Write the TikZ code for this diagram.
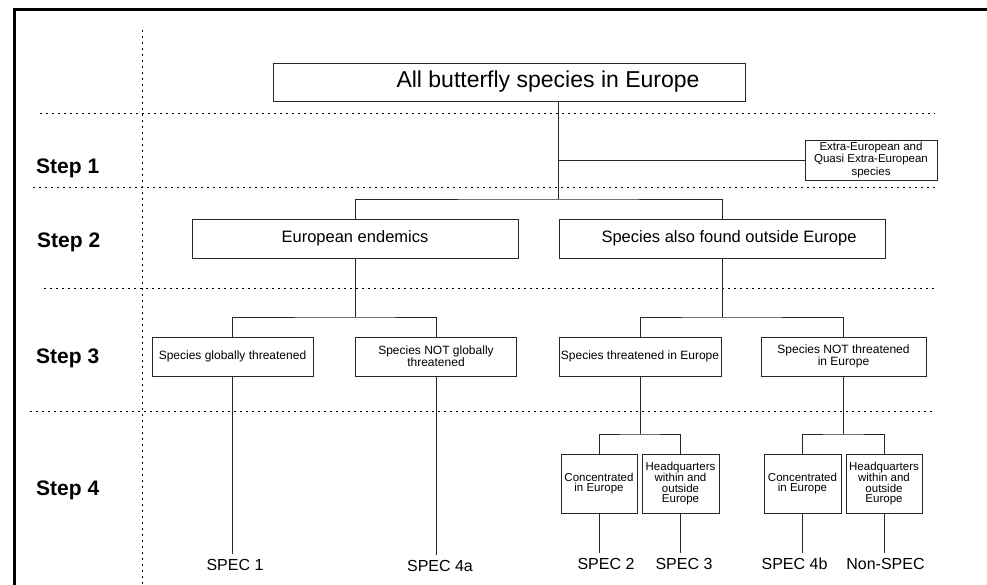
\documentclass[tikz,border=0pt]{standalone}
\usepackage{fontspec}
\setmainfont{Liberation Sans}
\begin{document}
\begin{tikzpicture}[x=1pt,y=-1pt,
  box/.style={draw=black!85, line width=0.9pt, align=center, inner sep=1pt},
  conn/.style={draw=black!85, line width=0.9pt},
  dots/.style={draw=black, line width=1pt, dash pattern=on 1.7pt off 4.3pt},
  steplabel/.style={anchor=west, inner sep=0pt, font=\fontsize{21}{24}\selectfont\bfseries},
  speclabel/.style={inner sep=5.3pt, font=\fontsize{16}{18}\selectfont},
  small/.style={font=\fontsize{11.5}{10.5}\selectfont},
  mid/.style={font=\fontsize{12}{11}\selectfont}]
\useasboundingbox (0,0) rectangle (987,585);
% frame
\draw[line width=3pt] (14.5,585) -- (14.5,9.5) -- (987,9.5);
% dotted grid
\draw[dots] (142.5,30) -- (142.5,585);
\draw[dots] (40,114) -- (935,114);
\draw[dots] (33,188) -- (938,188);
\draw[dots] (44,288) -- (935,288);
\draw[dots] (30,411) -- (933,411);
% step labels
\node[steplabel] (st1) at (36,168) {Step 1};
\node[steplabel] (st2) at (37,242) {Step 2};
\node[steplabel] (st3) at (36,358) {Step 3};
\node[steplabel] (st4) at (36,490) {Step 4};
% boxes
\node[box, minimum width=472, minimum height=38, font=\fontsize{23}{26}\selectfont] (top) at (509,82) {\hspace*{78pt}All butterfly species in Europe};
\node[box, minimum width=132, minimum height=40, font=\fontsize{11.5}{12.5}\selectfont] (extra) at (871,160) {Extra-European and\\Quasi Extra-European\\species};
\node[box, minimum width=326, minimum height=39, font=\fontsize{16.5}{19}\selectfont] (ee) at (355,238.5) {European endemics};
\node[box, minimum width=326, minimum height=39, font=\fontsize{16.5}{19}\selectfont] (sa) at (722,238.5) {\hspace*{14pt}Species also found outside Europe};
\node[box, mid, minimum width=161, minimum height=39] (s3a) at (232.5,356.5) {Species globally threatened};
\node[box, mid, minimum width=161, minimum height=39] (s3b) at (436,356.5) {Species NOT globally\\threatened};
\node[box, mid, minimum width=162, minimum height=39] (s3c) at (640,356.5) {Species threatened in Europe};
\node[box, mid, minimum width=165, minimum height=39] (s3d) at (843.5,356.5) {Species NOT threatened\\in Europe};
\node[box, small, minimum width=76, minimum height=59] (s4a) at (599,483.5) {Concentrated\\in Europe};
\node[box, small, minimum width=77, minimum height=59] (s4b) at (680.5,483.5) {Headquarters\\within and\\outside\\Europe};
\node[box, small, minimum width=77, minimum height=59] (s4c) at (802.5,483.5) {Concentrated\\in Europe};
\node[box, small, minimum width=76, minimum height=59] (s4d) at (884,483.5) {Headquarters\\within and\\outside\\Europe};
% result labels
\node[speclabel] (spec1) at (235,565) {SPEC 1};
\node[speclabel] (spec4a) at (440,566) {SPEC 4a};
\node[speclabel] (spec2) at (606,564) {SPEC 2};
\node[speclabel] (spec3) at (684,564) {SPEC 3};
\node[speclabel] (spec4b) at (794.5,564) {SPEC 4b};
\node[speclabel] (nonspec) at (885.5,564) {Non-SPEC};
% connectors
\coordinate (tb) at (558,101);
\coordinate (b1) at (558,199);
\draw[conn] (tb) -- (b1);
\draw[conn] (tb |- extra.west) -- (extra.west);
\draw[conn] (ee.north) |- (b1) -| (sa.north);
\coordinate (b2) at (355,317);
\draw[conn] (ee.south) -- (b2);
\draw[conn] (s3a.north) |- (b2) -| (s3b.north);
\coordinate (b3) at (722,317);
\draw[conn] (sa.south) -- (b3);
\draw[conn] (s3c.north) |- (b3) -| (s3d.north);
\coordinate (b4) at (640,434);
\draw[conn] (s3c.south) -- (b4);
\draw[conn] (s4a.north) |- (b4) -| (s4b.north);
\coordinate (b5) at (843,434);
\draw[conn] (s3d.south -| b5) -- (b5);
\draw[conn] (s4c.north) |- (b5) -| (s4d.north);
\draw[conn] (s3a.south) -- (s3a.south |- spec1.north);
\draw[conn] (s3b.south) -- (s3b.south |- spec4a.north);
\draw[conn] (s4a.south) -- (s4a.south |- spec2.north);
\draw[conn] (s4b.south) -- (s4b.south |- spec3.north);
\draw[conn] (s4c.south) -- (s4c.south |- spec4b.north);
\draw[conn] (s4d.south) -- (s4d.south |- nonspec.north);
\end{tikzpicture}
\end{document}
